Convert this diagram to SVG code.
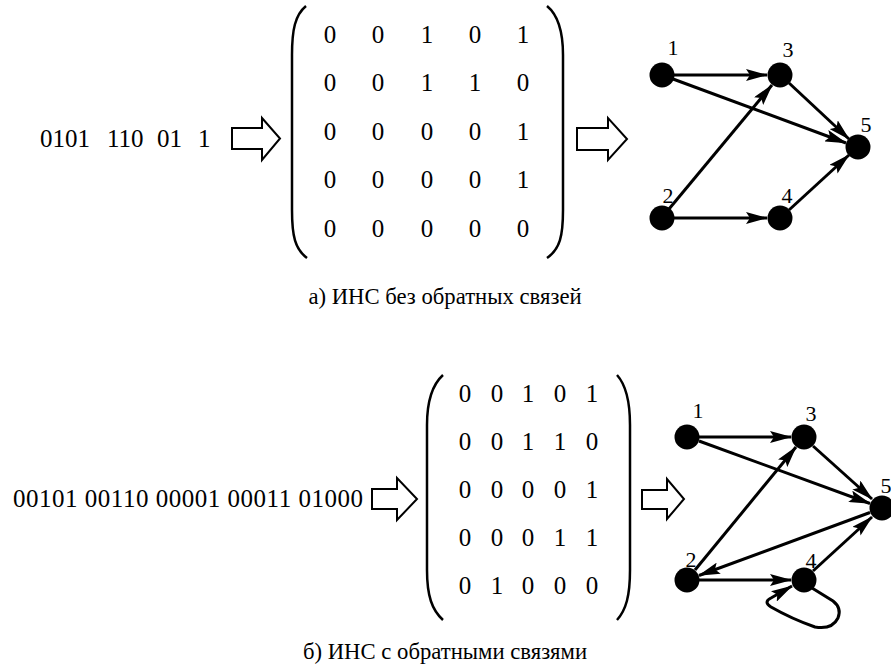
<svg xmlns="http://www.w3.org/2000/svg" width="891" height="670" viewBox="0 0 891 670">
  <style>
    text { font-family: "Liberation Serif", "Times New Roman", serif; fill: #000; }
    .code { font-size: 25px; }
    .cell { font-size: 25px; text-anchor: middle; }
    .lbl { font-size: 22px; text-anchor: middle; }
    .cap { font-size: 22.7px; text-anchor: middle; }
    .node { fill: #000; }
    .edge { fill: none; stroke: #000; stroke-width: 3; marker-end: url(#head); }
    .bracket { fill: none; stroke: #000; stroke-width: 2.5; }
    .bigarrow { fill: #fff; stroke: #000; stroke-width: 2; stroke-linejoin: miter; }
  </style>
  <defs>
    <marker id="head" viewBox="0 0 22 12" markerWidth="22" markerHeight="12" refX="21" refY="6" orient="auto" markerUnits="userSpaceOnUse">
      <path d="M0,0 L22,6 L0,12 L4,6 Z" fill="#000"/>
    </marker>
  </defs>
  <rect width="891" height="670" fill="#fff"/>

  <!-- ===== a) network without feedback ===== -->
  <g id="code-a">
    <text class="code" x="40" y="147">0101</text>
    <text class="code" x="107" y="147">110</text>
    <text class="code" x="157" y="147">01</text>
    <text class="code" x="198" y="147">1</text>
  </g>
  <polygon id="arrow-a1" class="bigarrow" points="232,128 262,128 262,118 280,138.5 262,160 262,149 232,149"/>

  <g id="matrix-a">
    <path class="bracket" d="M306,6 C295,15 292,30 292,55 L292,210 C292,236 295,249 307,258"/>
    <path class="bracket" d="M547,6 C558,15 563,30 563,55 L563,210 C563,236 560,249 547,258"/>
    <g>
      <text class="cell" x="330" y="43">0</text><text class="cell" x="378" y="43">0</text><text class="cell" x="427" y="43">1</text><text class="cell" x="475" y="43">0</text><text class="cell" x="523" y="43">1</text>
      <text class="cell" x="330" y="91">0</text><text class="cell" x="378" y="91">0</text><text class="cell" x="427" y="91">1</text><text class="cell" x="475" y="91">1</text><text class="cell" x="523" y="91">0</text>
      <text class="cell" x="330" y="140">0</text><text class="cell" x="378" y="140">0</text><text class="cell" x="427" y="140">0</text><text class="cell" x="475" y="140">0</text><text class="cell" x="523" y="140">1</text>
      <text class="cell" x="330" y="188">0</text><text class="cell" x="378" y="188">0</text><text class="cell" x="427" y="188">0</text><text class="cell" x="475" y="188">0</text><text class="cell" x="523" y="188">1</text>
      <text class="cell" x="330" y="237">0</text><text class="cell" x="378" y="237">0</text><text class="cell" x="427" y="237">0</text><text class="cell" x="475" y="237">0</text><text class="cell" x="523" y="237">0</text>
    </g>
  </g>
  <polygon id="arrow-a2" class="bigarrow" points="577,128 608,128 608,118 627,139 608,160 608,150 577,150"/>

  <g id="edges-a">
    <line class="edge" x1="674" y1="75" x2="767" y2="75"/>
    <line class="edge" x1="673" y1="79" x2="846" y2="143"/>
    <line class="edge" x1="789" y1="83" x2="849" y2="139"/>
    <line class="edge" x1="669" y1="209" x2="772" y2="85"/>
    <line class="edge" x1="674" y1="218" x2="767" y2="218"/>
    <line class="edge" x1="789" y1="210" x2="849" y2="155"/>
  </g>
  <g id="a-n1"><circle class="node" cx="662" cy="75" r="12.5"/><text class="lbl" x="673" y="55">1</text></g>
  <g id="a-n2"><circle class="node" cx="662" cy="218" r="12.5"/><text class="lbl" x="668" y="203">2</text></g>
  <g id="a-n3"><circle class="node" cx="780" cy="75" r="12.5"/><text class="lbl" x="788" y="57">3</text></g>
  <g id="a-n4"><circle class="node" cx="780" cy="218" r="12.5"/><text class="lbl" x="787" y="203">4</text></g>
  <g id="a-n5"><circle class="node" cx="858" cy="147" r="12.5"/><text class="lbl" x="866" y="132">5</text></g>

  <text class="cap" x="445" y="304">а) ИНС без обратных связей</text>

  <!-- ===== b) network with feedback ===== -->
  <text id="code-b" class="code" x="13" y="507" textLength="350" lengthAdjust="spacing">00101 00110 00001 00011 01000</text>
  <polygon id="arrow-b1" class="bigarrow" points="372,489 397,489 397,478 417,499 397,520 397,509 372,509"/>

  <g id="matrix-b">
    <path class="bracket" d="M443,375 C432,385 427,400 427,425 L427,570 C427,596 432,610 443,620"/>
    <path class="bracket" d="M617,375 C626,385 630,400 630,425 L630,570 C630,596 626,610 617,620"/>
    <g>
      <text class="cell" x="465" y="402">0</text><text class="cell" x="497" y="402">0</text><text class="cell" x="528" y="402">1</text><text class="cell" x="560" y="402">0</text><text class="cell" x="592" y="402">1</text>
      <text class="cell" x="465" y="450">0</text><text class="cell" x="497" y="450">0</text><text class="cell" x="528" y="450">1</text><text class="cell" x="560" y="450">1</text><text class="cell" x="592" y="450">0</text>
      <text class="cell" x="465" y="498">0</text><text class="cell" x="497" y="498">0</text><text class="cell" x="528" y="498">0</text><text class="cell" x="560" y="498">0</text><text class="cell" x="592" y="498">1</text>
      <text class="cell" x="465" y="546">0</text><text class="cell" x="497" y="546">0</text><text class="cell" x="528" y="546">0</text><text class="cell" x="560" y="546">1</text><text class="cell" x="592" y="546">1</text>
      <text class="cell" x="465" y="594">0</text><text class="cell" x="497" y="594">1</text><text class="cell" x="528" y="594">0</text><text class="cell" x="560" y="594">0</text><text class="cell" x="592" y="594">0</text>
    </g>
  </g>
  <polygon id="arrow-b2" class="bigarrow" points="642,490 667,490 667,479 684,499 667,519 667,509 642,509"/>

  <g id="edges-b">
    <line class="edge" x1="699" y1="437" x2="791" y2="437"/>
    <line class="edge" x1="699" y1="441" x2="870" y2="503.5"/>
    <line class="edge" x1="813" y1="446" x2="872" y2="499"/>
    <line class="edge" x1="695" y1="570" x2="796" y2="447"/>
    <line class="edge" x1="699" y1="580" x2="791" y2="580"/>
    <line class="edge" x1="813" y1="571" x2="872" y2="517"/>
    <line class="edge" x1="870" y1="512.5" x2="699" y2="575.5"/>
    <path class="edge" d="M812,588 L833,601 Q842,608 838,618 Q832,630 815,627 Q792,619 771,607 Q763,602 771,598 L792,586"/>
  </g>
  <g id="b-n1"><circle class="node" cx="687" cy="437" r="12.5"/><text class="lbl" x="698" y="418">1</text></g>
  <g id="b-n2"><circle class="node" cx="687" cy="580" r="12.5"/><text class="lbl" x="691" y="567">2</text></g>
  <g id="b-n3"><circle class="node" cx="804" cy="437" r="12.5"/><text class="lbl" x="811" y="421">3</text></g>
  <g id="b-n4"><circle class="node" cx="804" cy="580" r="12.5"/><text class="lbl" x="811" y="568">4</text></g>
  <g id="b-n5"><circle class="node" cx="882" cy="508" r="12.5"/><text class="lbl" x="886" y="493">5</text></g>

  <text class="cap" x="445" y="659">б) ИНС с обратными связями</text>
</svg>
